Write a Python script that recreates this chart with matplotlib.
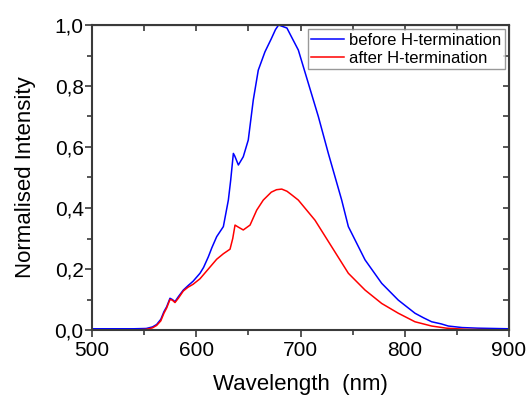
import matplotlib.pyplot as plt
import matplotlib.ticker as ticker

plt.rcParams['font.family'] = ['Liberation Sans', 'DejaVu Sans']

# before H-termination (blue)
wl_before = [500, 520, 540, 552, 558, 562, 566, 569, 571.6, 574.8, 577, 579.6, 583, 587.6,
             592, 597, 603.6, 607, 611.6, 615, 619.6, 626, 630.8, 633, 635.6, 637, 640.4,
             645.1, 649.9, 654.7, 659.5, 665.9, 672, 676, 679, 683, 687, 690, 697.9, 707.5,
             717.1, 726.7, 739.5, 745.9, 761.9, 777.9, 793.8, 809.8, 818, 825.8, 835, 841.8,
             855, 870, 900]
int_before = [0.004, 0.004, 0.004, 0.005, 0.01, 0.018, 0.035, 0.06, 0.076, 0.104, 0.1, 0.093,
              0.11, 0.131, 0.145, 0.16, 0.186, 0.205, 0.24, 0.27, 0.306, 0.339, 0.426, 0.49,
              0.579, 0.57, 0.541, 0.568, 0.623, 0.754, 0.852, 0.912, 0.955, 0.985, 1.0, 0.995,
              0.99, 0.97, 0.918, 0.809, 0.70, 0.579, 0.426, 0.339, 0.23, 0.153, 0.098, 0.055,
              0.04, 0.027, 0.02, 0.013, 0.008, 0.006, 0.004]

# after H-termination (red)
wl_after = [500, 520, 540, 552, 558, 562, 566, 569, 571.6, 574.8, 577, 579.6, 583, 587.6,
            592, 597, 603.6, 611.6, 619.6, 626, 632.4, 635, 637.2, 640, 645.1, 651.6, 658,
            664.3, 672, 677, 682, 687, 691.6, 697.9, 713.9, 729.9, 745.9, 761.9, 777.9, 793.8,
            809.8, 825.8, 840, 860, 900]
int_after = [0.0, 0.0, 0.0, 0.002, 0.007, 0.015, 0.03, 0.055, 0.072, 0.1, 0.098, 0.09,
             0.105, 0.128, 0.14, 0.15, 0.168, 0.2, 0.232, 0.25, 0.265, 0.3, 0.344, 0.338,
             0.328, 0.344, 0.393, 0.426, 0.452, 0.46, 0.462, 0.455, 0.443, 0.426, 0.36, 0.273,
             0.186, 0.131, 0.087, 0.055, 0.027, 0.013, 0.006, 0.002, 0.0]

fig = plt.figure(figsize=(5.3, 3.96), dpi=100)
ax = fig.add_axes([92 / 530, 1 - 330 / 396, (509 - 92) / 530, (330 - 25) / 396])

ax.plot(wl_before, int_before, color='#0000ff', lw=1.1, label='before H-termination')
ax.plot(wl_after, int_after, color='#ff0000', lw=1.1, label='after H-termination')

ax.set_xlim(500, 900)
ax.set_ylim(0, 1.0)
ax.xaxis.set_major_locator(ticker.MultipleLocator(100))
ax.xaxis.set_minor_locator(ticker.MultipleLocator(50))
ax.yaxis.set_major_locator(ticker.MultipleLocator(0.2))
ax.yaxis.set_minor_locator(ticker.MultipleLocator(0.1))
ax.yaxis.set_major_formatter(ticker.FuncFormatter(lambda v, p: ('%.1f' % v).replace('.', ',')))

sc = '#3a3a3a'
for s in ax.spines.values():
    s.set_color(sc)
    s.set_linewidth(1.5)
ax.tick_params(which='both', direction='out', color=sc, width=1.2, labelsize=15)
ax.tick_params(which='major', length=5)
ax.tick_params(which='minor', length=3.5)
ax.tick_params(axis='y', which='major', pad=1)
ax.tick_params(axis='x', which='major', pad=3)

# ticks on top and right, inward
axt = ax.secondary_xaxis('top')
axt.xaxis.set_major_locator(ticker.MultipleLocator(50))
axt.tick_params(direction='in', length=4, color=sc, width=1.2, labeltop=False)
axr = ax.secondary_yaxis('right')
axr.yaxis.set_major_locator(ticker.MultipleLocator(0.1))
axr.tick_params(direction='in', length=4, color=sc, width=1.2, labelright=False)

ax.set_xlabel('Wavelength  (nm)', fontsize=16, labelpad=10)
ax.set_ylabel('Normalised Intensity', fontsize=16, labelpad=13)

leg = ax.legend(loc='upper right', fontsize=12, fancybox=False, handlelength=2.0,
                borderpad=0.2, labelspacing=0.2, handletextpad=0.3, borderaxespad=0.25)
leg.get_frame().set_edgecolor('#808080')
leg.get_frame().set_linewidth(1.0)

fig.savefig('out.png', dpi=100)
